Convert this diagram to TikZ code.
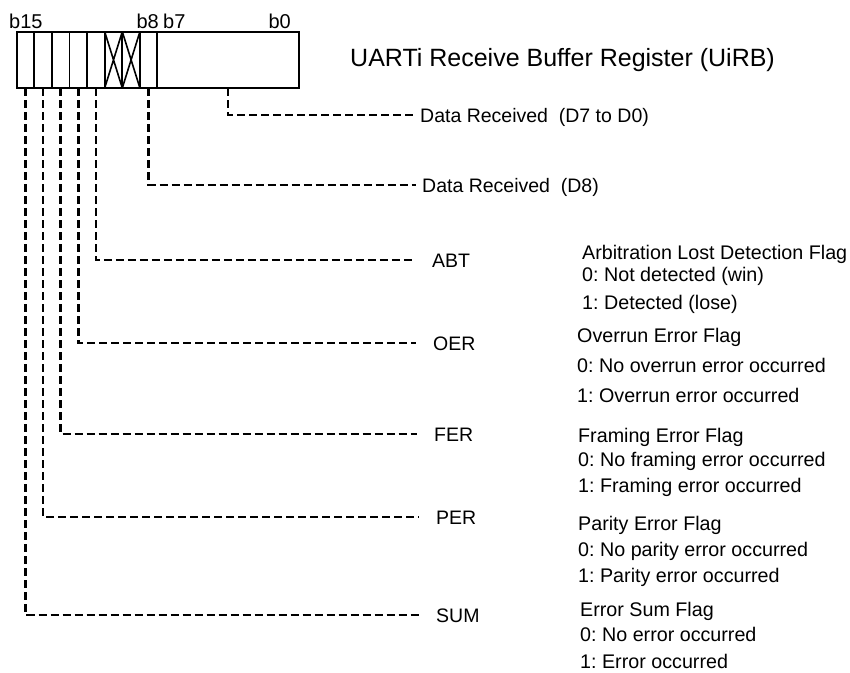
\documentclass[tikz,border=0pt]{standalone}
\usepackage{fontspec}
\setmainfont{Liberation Sans}
\frenchspacing
\begin{document}
\begin{tikzpicture}[x=1pt, y=-1pt,
    cell/.style={rectangle,draw,line width=1.9pt,minimum width=17.6pt,minimum height=56.3pt,inner sep=0pt,outer sep=0pt},
    bitno/.style={inner sep=0pt,font=\fontsize{20}{24}\selectfont},
    lbl/.style={anchor=west,inner sep=0pt,text height=14pt,text depth=0pt,font=\fontsize{19.5}{24}\selectfont},
    desc/.style={anchor=base west,inner sep=0pt,align=left,font=\fontsize{19.7}{26}\selectfont},
    conn/.style={line width=2.5pt,dash pattern=on 8pt off 4pt,shorten >=17pt}
  ]
  \useasboundingbox (0,0) rectangle (850,672);

  % register cells b15..b8 and the low byte
  \node[cell] (c15) at (25.5,59.85) {};
  \node[cell] (c14) at (43.1,59.85) {};
  \node[cell] (c13) at (60.7,59.85) {};
  \node[cell] (c12) at (78.3,59.85) {};
  \node[cell] (c11) at (95.9,59.85) {};
  \node[cell] (c10) at (113.5,59.85) {};
  \node[cell] (c9) at (131.1,59.85) {};
  \node[cell] (c8) at (148.7,59.85) {};
  \node[cell,minimum width=141.7pt] (low) at (228.15,59.85) {};
  \draw[line width=1.6pt] (c10.north west) -- (c10.south east) (c10.south west) -- (c10.north east);
  \draw[line width=1.6pt] (c9.north west) -- (c9.south east) (c9.south west) -- (c9.north east);

  \node[bitno,anchor=base west] (t15) at (9,28.3) {b15};
  \node[bitno,anchor=base east] (t8) at (159,28.3) {b8};
  \node[bitno,anchor=base west] (t7) at (163,28.3) {b7};
  \node[bitno,anchor=base east] (t0) at (291,28.3) {b0};

  \node[anchor=base west,inner sep=0pt,font=\fontsize{25}{30}\selectfont] (title) at (350,66.7) {UARTi Receive Buffer Register (UiRB)};

  % bit field names
  \node[lbl] (d70) at (420,115) {Data Received~~(D7 to D0)};
  \node[lbl] (d8) at (422,185) {Data Received~~(D8)};
  \node[lbl] (abt) at (432,260) {ABT};
  \node[lbl] (oer) at (433,343) {OER};
  \node[lbl] (fer) at (434,434) {FER};
  \node[lbl] (per) at (436,517) {PER};
  \node[lbl] (sum) at (436,615) {SUM};

  \draw[conn,shorten >=5pt] (low.south) |- (d70.west);
  \draw[conn,shorten >=6pt] (c8.south) |- (d8.west);
  \draw[conn] (c11.south) |- (abt.west);
  \draw[conn] (c12.south) |- (oer.west);
  \draw[conn] (c13.south) |- (fer.west);
  \draw[conn] (c14.south) |- (per.west);
  \draw[conn] (c15.south) |- (sum.west);

  % flag descriptions (base = last line)
  \node[desc] (abtd) at (582,309.3) {Arbitration Lost Detection Flag\\[-3.3pt]0: Not detected (win)\\[1.6pt]1: Detected (lose)};
  \node[desc] (oerd) at (577,402) {Overrun Error Flag\\[4.5pt]0: No overrun error occurred\\[3.5pt]1: Overrun error occurred};
  \node[desc] (ferd) at (578,492.7) {Framing Error Flag\\[-2.7pt]0: No framing error occurred\\[0.7pt]1: Framing error occurred};
  \node[desc] (perd) at (578,582.7) {Parity Error Flag\\[0.7pt]0: No parity error occurred\\1: Parity error occurred};
  \node[desc] (sumd) at (580,668) {Error Sum Flag\\[-1pt]0: No error occurred\\[0.3pt]1: Error occurred};
\end{tikzpicture}
\end{document}
